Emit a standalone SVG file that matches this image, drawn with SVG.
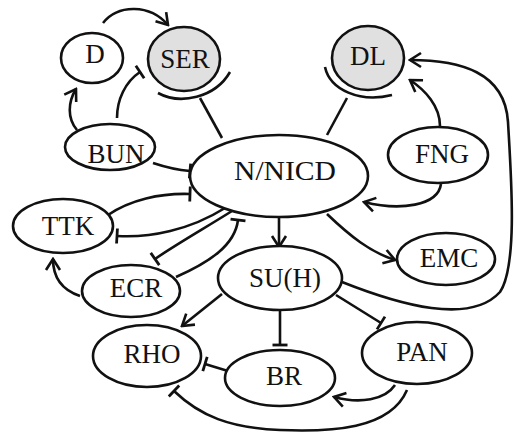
<svg xmlns="http://www.w3.org/2000/svg" width="514" height="435" viewBox="0 0 514 435">
<style>
.n{fill:#fff;stroke:#111;stroke-width:2.6}
.g{fill:#e0e0e0;stroke:#111;stroke-width:2.6}
.t{font-family:"Liberation Serif","Times New Roman",serif;font-size:27px;fill:#111;text-anchor:middle}
.e{fill:none;stroke:#111;stroke-width:2.6}
.a{marker-end:url(#arr)}
.i{marker-end:url(#bar)}
</style>
<defs>
<marker id="arr" markerUnits="userSpaceOnUse" viewBox="-14 -9 16 18" markerWidth="16" markerHeight="18" refX="0" refY="0" orient="auto">
<path d="M-11,-7 L0,0 L-11,7" fill="none" stroke="#111" stroke-width="2.6" stroke-linejoin="miter"/>
</marker>
<marker id="bar" markerUnits="userSpaceOnUse" viewBox="-3 -9 6 18" markerWidth="6" markerHeight="18" refX="0" refY="0" orient="auto">
<path d="M0,-7.5 L0,7.5" fill="none" stroke="#111" stroke-width="2.8"/>
</marker>
</defs>
<g id="connectors">
<path class="e a" d="M103,23 C118,4 150,4 168,25"/>
<path class="e a" d="M77,130 C67,118 68,102 76,89"/>
<path class="e i" d="M117,118 C117,100 125,82 140,72"/>
<path class="e i" d="M153,163 C165,167 178,170 190,171"/>
<path class="e i" d="M108,215 C130,200 160,193 190,194"/>
<path class="e i" d="M225,208 C190,230 150,238 117,236"/>
<path class="e i" d="M232,211 C205,228 175,245 155,259"/>
<path class="e i" d="M176,277 C210,262 235,245 238,220"/>
<path class="e a" d="M80,296 C62,290 53,278 53,259"/>
<path class="e a" d="M279,217 L279,247"/>
<path class="e a" d="M327,214 C350,236 370,252 395,260"/>
<path class="e a" d="M441,184 C438,206 400,211 364,202"/>
<path class="e a" d="M440,126 C440,106 425,90 410,80"/>
<path class="e a" d="M342,282 C400,305 470,325 500,292 C518,265 511,175 508,122 C505,72 460,60 410,60"/>
<path class="e a" d="M222,294 L182,326"/>
<path class="e i" d="M280,311 L280,345"/>
<path class="e i" d="M336,295 L381,323"/>
<path class="e i" d="M228,371 L205,364"/>
<path class="e a" d="M395,385 C385,400 360,404 334,397"/>
<path class="e i" d="M407,390 C390,430 330,432 280,430 C230,428 200,416 174,391"/>
<path class="e" d="M158,93 C180,105 215,98 230,72"/>
<path class="e" d="M200,98 L222,138"/>
<path class="e" d="M325,67 C330,90 360,103 392,95"/>
<path class="e" d="M347,98 L327,135"/>
</g>
<g id="D"><ellipse class="n" cx="92" cy="58" rx="31" ry="25"/><text class="t" x="95" y="63">D</text></g>
<g id="SER"><ellipse class="g" cx="184" cy="59" rx="36" ry="32"/><text class="t" x="185" y="68">SER</text></g>
<g id="DL"><ellipse class="g" cx="368" cy="58" rx="36" ry="32"/><text class="t" x="368" y="65">DL</text></g>
<g id="BUN"><ellipse class="n" cx="110" cy="147" rx="45" ry="23"/><text class="t" x="116" y="163">BUN</text></g>
<g id="NNICD"><ellipse class="n" cx="279" cy="176" rx="89" ry="41"/><text class="t" x="285" y="180" textLength="102" lengthAdjust="spacingAndGlyphs">N/NICD</text></g>
<g id="FNG"><ellipse class="n" cx="438" cy="155" rx="50" ry="28"/><text class="t" x="442" y="163">FNG</text></g>
<g id="TTK"><ellipse class="n" cx="63" cy="226" rx="50" ry="27"/><text class="t" x="68" y="235">TTK</text></g>
<g id="ECR"><ellipse class="n" cx="131" cy="291" rx="49" ry="26"/><text class="t" x="136" y="297">ECR</text></g>
<g id="SUH"><ellipse class="n" cx="280" cy="278" rx="62" ry="32"/><text class="t" x="285" y="287">SU(H)</text></g>
<g id="EMC"><ellipse class="n" cx="446" cy="259" rx="49" ry="26"/><text class="t" x="449" y="267">EMC</text></g>
<g id="RHO"><ellipse class="n" cx="147" cy="356" rx="54" ry="31"/><text class="t" x="152" y="363">RHO</text></g>
<g id="PAN"><ellipse class="n" cx="417" cy="353" rx="55" ry="31"/><text class="t" x="422" y="361">PAN</text></g>
<g id="BR"><ellipse class="n" cx="280" cy="378" rx="55" ry="28"/><text class="t" x="284" y="385">BR</text></g>
</svg>
